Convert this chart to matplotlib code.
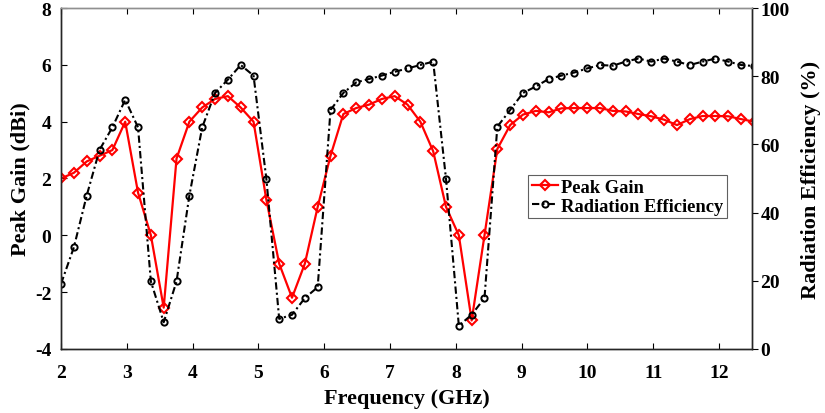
import numpy as np
import matplotlib
matplotlib.use("Agg")
import matplotlib.pyplot as plt
from matplotlib.lines import Line2D

plt.rcParams['font.family'] = ['Liberation Serif', 'DejaVu Serif']
plt.rcParams['font.weight'] = 'bold'
plt.rcParams['axes.unicode_minus'] = False

# frequency sweep (GHz), 55 samples
freq = np.linspace(2.0, 12.53, 55)

# peak gain (dBi)
gain = [2.0, 2.2, 2.6, 2.8, 3.0, 4.0, 1.5, 0.0, -2.55, 2.7,
        4.0, 4.5, 4.8, 4.9, 4.5, 4.0, 1.25, -1.0, -2.2, -1.0,
        1.0, 2.8, 4.27, 4.48, 4.6, 4.8, 4.9, 4.6, 4.0, 2.96,
        1.0, 0.0, -3.0, 0.0, 3.04, 3.88, 4.25, 4.38, 4.33, 4.47,
        4.48, 4.48, 4.48, 4.38, 4.36, 4.27, 4.19, 4.07, 3.88, 4.09,
        4.2, 4.2, 4.19, 4.09, 4.0]

# radiation efficiency (%)
eff = [19.1, 29.8, 45.0, 58.4, 65.0, 73.1, 65.0, 19.8, 7.8, 19.8,
       45.0, 65.0, 75.1, 79.0, 83.3, 80.2, 49.9, 8.8, 10.0, 14.9,
       18.1, 70.1, 75.1, 78.2, 79.2, 80.2, 81.3, 82.3, 83.3, 84.3,
       49.9, 6.8, 10.0, 14.9, 65.2, 70.1, 75.1, 77.0, 79.2, 80.2,
       81.1, 82.3, 83.3, 83.1, 84.3, 85.2, 84.3, 85.2, 84.3, 83.3,
       84.3, 85.2, 84.3, 83.3, 83.0]

gain_style = dict(color='red', lw=1.6, marker='D', ms=5, mfc='none', mec='red', mew=1.5)
eff_style = dict(color='black', lw=1.5, ls=(0, (3.5, 1.5, 1, 1.5)), marker='o', ms=4.5,
                 mfc='none', mec='black', mew=1.4)

fig = plt.figure(figsize=(8.25, 4.14), dpi=100)
ax = fig.add_axes([0.074, 0.155, 0.8375, 0.823])
ax2 = ax.twinx()

ax.plot(freq, gain, **gain_style)
ax2.plot(freq, eff, **eff_style)

ax.set_xlim(2, 12.5)
ax.set_ylim(-4, 8)
ax2.set_ylim(0, 100)
ax.set_xticks(range(2, 13))
ax.set_yticks(range(-4, 9, 2))
ax2.set_yticks(range(0, 101, 20))

ax.set_xlabel('Frequency (GHz)', fontsize=16, fontweight='bold', labelpad=5)
ax.set_ylabel('Peak Gain (dBi)', fontsize=16, fontweight='bold', labelpad=3)
ax2.set_ylabel('Radiation Efficiency (%)', fontsize=16, fontweight='bold', labelpad=8)

ax.tick_params(axis='x', direction='in', top=True, length=4, labelsize=14, pad=11)
ax.tick_params(axis='y', direction='in', right=False, length=4, labelsize=14, pad=7)
ax2.tick_params(axis='y', direction='out', length=4, labelsize=14, pad=2)

for a in (ax, ax2):
    for s in a.spines.values():
        s.set_color('#262626')
        s.set_linewidth(1.0)
    a.spines['top'].set_color('#909090')

handles = [Line2D([], [], **gain_style), Line2D([], [], **eff_style)]
leg = ax2.legend(handles, ['Peak Gain', 'Radiation Efficiency'], loc='upper left',
                 bbox_to_anchor=(0.676, 0.51), fontsize=13.3, frameon=True, fancybox=False,
                 edgecolor='#606060', framealpha=1, handlelength=1.4, handletextpad=0.2,
                 borderpad=0.2, labelspacing=0.1, borderaxespad=0)
leg.get_frame().set_linewidth(0.8)

fig.savefig('out.png', dpi=100)
